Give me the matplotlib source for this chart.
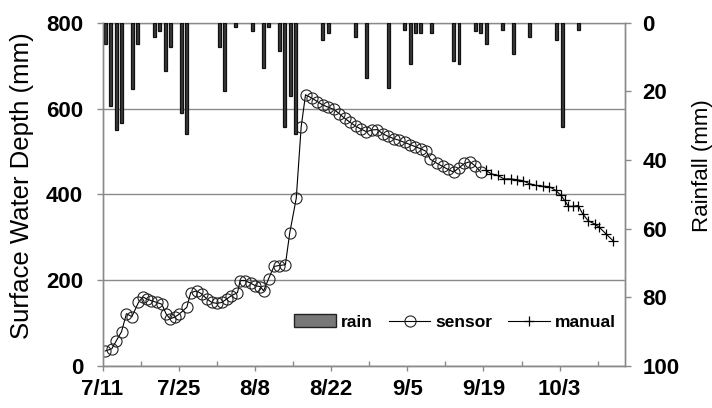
import matplotlib.pyplot as plt
import numpy as np
from matplotlib.ticker import MultipleLocator
from matplotlib.patches import Patch

plt.rcParams['font.family'] = ['Liberation Sans', 'DejaVu Sans']

# days counted from 7/11
tick_days = [0, 14, 28, 42, 56, 70, 84]
tick_labels = ['7/11', '7/25', '8/8', '8/22', '9/5', '9/19', '10/3']

rain_day = [0, 1, 2, 3, 5, 6, 9, 10, 11, 12, 14, 15, 21, 22, 24, 27, 29, 30,
            32, 33, 34, 35, 40, 41, 46, 48, 52, 55, 56, 57, 58, 60, 64, 65,
            68, 69, 70, 73, 75, 78, 83, 84, 87]
rain_mm = [6.2, 24.2, 31.3, 29.3, 19.3, 6.2, 4.3, 2.5, 14.2, 7.2, 26.4, 32.5,
           7.2, 20, 1.2, 2.3, 13.2, 1.2, 8.2, 30.3, 21.3, 32.5, 5, 3.1, 4.1,
           16.1, 19, 2.1, 12, 3.1, 3.1, 3.1, 11.1, 12, 2.3, 3.1, 6.2, 2.1,
           9.1, 4.1, 5, 30.3, 2.1]

sensor_day = [0.5, 1.7, 2.5, 3.5, 4.4, 5.4, 6.6, 7.4, 8.2, 9.0,
              10.0, 10.9, 11.7, 12.4, 13.3, 14.1, 15.5, 16.2, 17.3, 18.2,
              19.2, 20.1, 21.0, 21.9, 22.8, 23.7, 24.8, 25.3, 26.2, 27.2,
              28.1, 29.0, 29.6, 30.5, 31.5, 32.4, 33.6, 34.4, 35.6, 36.5,
              37.3, 38.5, 39.5, 40.5, 41.5, 42.5, 43.5, 44.5, 45.5, 46.5,
              47.5, 48.5, 49.5, 50.5, 51.5, 52.5, 53.5, 54.5, 55.5, 56.5,
              57.5, 58.5, 59.5, 60.2, 61.5, 62.5, 63.5, 64.5, 65.5, 66.5,
              67.5, 68.5, 69.5]
sensor_depth = [35, 40, 58, 80, 122, 115, 148, 161, 156, 152,
                148, 144, 121, 110, 114, 121, 137, 171, 175, 168,
                156, 148, 146, 148, 156, 164, 171, 199, 199, 193,
                187, 185, 175, 203, 232, 234, 236, 310, 391, 557,
                632, 624, 616, 608, 603, 598, 588, 577, 568, 559,
                552, 546, 550, 551, 541, 535, 530, 526, 521, 516,
                511, 506, 500, 482, 472, 465, 458, 452, 462, 472,
                476, 466, 452]

manual_day = [70.4, 71.4, 72.6, 73.8, 75.0, 76.2, 77.2, 78.4, 79.6, 80.9,
              82.1, 83.3, 84.2, 84.9, 85.6, 86.4, 87.4, 88.2, 89.2, 90.4,
              91.3, 92.5, 93.8]
manual_depth = [456, 448, 444, 436, 436, 434, 432, 425, 421, 419,
                418, 409, 398, 386, 372, 372, 374, 355, 339, 331,
                323, 308, 292]

grey = '#8a8a8a'

fig = plt.figure(figsize=(7.12, 4.08), dpi=100)
ax = fig.add_axes([102.5 / 712, 1 - 366 / 408, 522.5 / 712, 343.3 / 408])
ax2 = ax.twinx()

l1, = ax.plot(sensor_day, sensor_depth, '-', color='black', lw=0.8,
              marker='o', ms=8, mfc='none', mec='#222222', mew=0.8,
              label='sensor')
l2, = ax.plot(manual_day, manual_depth, '-', color='black', lw=0.8,
              marker='+', ms=7, mew=0.9, label='manual')

ax2.bar(np.array(rain_day) + 0.5, rain_mm, width=0.55,
        color='#3a3a3a', edgecolor='#111111', linewidth=0.9)
rain_handle = Patch(facecolor='#787878', edgecolor='#222222', linewidth=1)

ax.set_xlim(0, 96)
ax.set_ylim(0, 800)
ax2.set_ylim(100, 0)

ax.set_yticks([0, 200, 400, 600, 800])
ax2.set_yticks([0, 20, 40, 60, 80, 100])
ax.set_xticks(tick_days)
ax.set_xticklabels(tick_labels)
ax.xaxis.set_minor_locator(MultipleLocator(7))

ax.grid(axis='y', color=grey, lw=1)
ax.set_axisbelow(True)

for a in (ax, ax2):
    for s in a.spines.values():
        s.set_color(grey)
        s.set_linewidth(1)
ax2.spines['top'].set_visible(False)

ax.tick_params(axis='y', direction='out', length=4, width=1, color=grey,
               pad=10, labelsize=16)
ax.tick_params(axis='x', which='major', direction='out', length=3.5, width=1,
               color=grey, pad=6, labelsize=16)
ax.tick_params(axis='x', which='minor', direction='in', length=3.5, width=1,
               color=grey)
ax2.tick_params(axis='y', direction='out', length=4.5, width=1, color=grey,
                pad=8, labelsize=16)
for lab in ax.get_xticklabels() + ax.get_yticklabels() + ax2.get_yticklabels():
    lab.set_fontweight('bold')

ax.set_ylabel('Surface Water Depth (mm)', fontsize=18.5, ha='center',
              va='center')
ax.yaxis.set_label_coords(-0.154, 0.524)
ax2.set_ylabel('Rainfall (mm)', fontsize=16, rotation=90, ha='center',
               va='center')
ax2.yaxis.set_label_coords(1.149, 0.585)

ax2.legend([rain_handle, l1, l2], ['rain', 'sensor', 'manual'], ncol=3,
           loc='center', bbox_to_anchor=(0.675, 0.128), frameon=False,
           handlelength=2.4, handleheight=0.7, handletextpad=0.3,
           columnspacing=0.9, prop={'weight': 'bold', 'size': 12.5})

fig.savefig('out.png', dpi=100)
